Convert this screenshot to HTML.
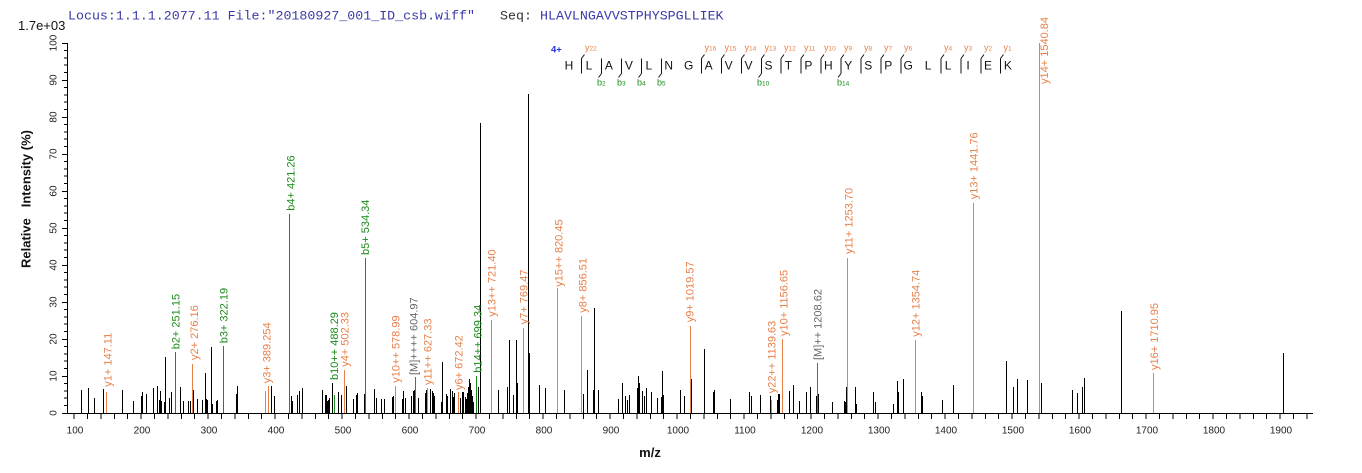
<!DOCTYPE html>
<html><head><meta charset="utf-8"><style>
html,body{margin:0;padding:0;background:#fff;}
svg{display:block;}
.pk{font-family:"Liberation Sans",Arial,sans-serif;font-size:11px;}
.ax{font-family:"Liberation Sans",Arial,sans-serif;font-size:10px;fill:#222;}
</style></head><body>
<svg width="1362" height="473" viewBox="0 0 1362 473" xmlns="http://www.w3.org/2000/svg">
<rect width="1362" height="473" fill="#fff"/>
<!-- header -->
<text x="68" y="19.5" font-family="Liberation Mono, monospace" font-size="13.3" fill="#3a3aa8">Locus:1.1.1.2077.11 File:"20180927_001_ID_csb.wiff"</text>
<text x="500" y="19.5" font-family="Liberation Mono, monospace" font-size="13.3" fill="#333">Seq:</text>
<text x="540" y="19.5" font-family="Liberation Mono, monospace" font-size="13.3" fill="#3a3aa8">HLAVLNGAVVSTPHYSPGLLIEK</text>
<text x="18" y="30" font-family="Liberation Sans, Arial, sans-serif" font-size="13" fill="#111">1.7e+03</text>

<!-- axes -->
<g stroke="#000" stroke-width="1" shape-rendering="crispEdges" fill="none">
<path d="M67.5 43V413.5 M62.5 413.5H1313"/>
<path d="M62 413.5H67 M62 376.5H67 M62 339.5H67 M62 302.5H67 M62 265.5H67 M62 228.5H67 M62 191.5H67 M62 154.5H67 M62 117.5H67 M62 80.5H67 M62 43.5H67"/>
<path d="M64 405.6H67 M64 398.2H67 M64 390.8H67 M64 383.4H67 M64 368.6H67 M64 361.2H67 M64 353.8H67 M64 346.4H67 M64 331.6H67 M64 324.2H67 M64 316.8H67 M64 309.4H67 M64 294.6H67 M64 287.2H67 M64 279.8H67 M64 272.4H67 M64 257.6H67 M64 250.2H67 M64 242.8H67 M64 235.4H67 M64 220.6H67 M64 213.2H67 M64 205.8H67 M64 198.4H67 M64 183.6H67 M64 176.2H67 M64 168.8H67 M64 161.4H67 M64 146.6H67 M64 139.2H67 M64 131.8H67 M64 124.4H67 M64 109.6H67 M64 102.2H67 M64 94.8H67 M64 87.4H67 M64 72.6H67 M64 65.2H67 M64 57.8H67 M64 50.4H67"/>
<path d="M74.1 413V419 M87.5 413V419 M100.9 413V419 M114.3 413V419 M127.7 413V419 M141.1 413V419 M154.5 413V419 M167.9 413V419 M181.3 413V419 M194.7 413V419 M208.1 413V419 M221.5 413V419 M234.9 413V419 M248.3 413V419 M261.7 413V419 M275.1 413V419 M288.5 413V419 M301.9 413V419 M315.3 413V419 M328.7 413V419 M342.1 413V419 M355.5 413V419 M368.9 413V419 M382.3 413V419 M395.7 413V419 M409.1 413V419 M422.5 413V419 M435.9 413V419 M449.3 413V419 M462.7 413V419 M476.1 413V419 M489.5 413V419 M502.9 413V419 M516.3 413V419 M529.7 413V419 M543.1 413V419 M556.5 413V419 M569.9 413V419 M583.3 413V419 M596.7 413V419 M610.1 413V419 M623.5 413V419 M636.9 413V419 M650.3 413V419 M663.7 413V419 M677.1 413V419 M690.5 413V419 M703.9 413V419 M717.3 413V419 M730.7 413V419 M744.1 413V419 M757.5 413V419 M770.9 413V419 M784.3 413V419 M797.7 413V419 M811.1 413V419 M824.5 413V419 M837.9 413V419 M851.3 413V419 M864.7 413V419 M878.1 413V419 M891.5 413V419 M904.9 413V419 M918.3 413V419 M931.7 413V419 M945.1 413V419 M958.5 413V419 M971.9 413V419 M985.3 413V419 M998.7 413V419 M1012.1 413V419 M1025.5 413V419 M1038.9 413V419 M1052.3 413V419 M1065.7 413V419 M1079.1 413V419 M1092.5 413V419 M1105.9 413V419 M1119.3 413V419 M1132.7 413V419 M1146.1 413V419 M1159.5 413V419 M1172.9 413V419 M1186.3 413V419 M1199.7 413V419 M1213.1 413V419 M1226.5 413V419 M1239.9 413V419 M1253.3 413V419 M1266.7 413V419 M1280.1 413V419 M1293.5 413V419 M1306.9 413V419"/>
</g>

<!-- y tick labels -->
<g class="ax" text-anchor="middle">
<text transform="translate(56.5,413) rotate(-90)">0</text>
<text transform="translate(56.5,376) rotate(-90)">10</text>
<text transform="translate(56.5,339) rotate(-90)">20</text>
<text transform="translate(56.5,302) rotate(-90)">30</text>
<text transform="translate(56.5,265) rotate(-90)">40</text>
<text transform="translate(56.5,228) rotate(-90)">50</text>
<text transform="translate(56.5,191) rotate(-90)">60</text>
<text transform="translate(56.5,154) rotate(-90)">70</text>
<text transform="translate(56.5,117) rotate(-90)">80</text>
<text transform="translate(56.5,80) rotate(-90)">90</text>
<text transform="translate(56.5,43) rotate(-90)">100</text>
</g>
<!-- x tick labels -->
<g class="ax" text-anchor="middle">
<text x="75" y="433.5">100</text>
<text x="142" y="433.5">200</text>
<text x="209" y="433.5">300</text>
<text x="276" y="433.5">400</text>
<text x="343" y="433.5">500</text>
<text x="410" y="433.5">600</text>
<text x="477" y="433.5">700</text>
<text x="544" y="433.5">800</text>
<text x="611" y="433.5">900</text>
<text x="678" y="433.5">1000</text>
<text x="745" y="433.5">1100</text>
<text x="812" y="433.5">1200</text>
<text x="879" y="433.5">1300</text>
<text x="946" y="433.5">1400</text>
<text x="1013" y="433.5">1500</text>
<text x="1080" y="433.5">1600</text>
<text x="1147" y="433.5">1700</text>
<text x="1214" y="433.5">1800</text>
<text x="1281" y="433.5">1900</text>
</g>

<!-- axis titles -->
<text x="650" y="457" text-anchor="middle" font-family="Liberation Sans, Arial, sans-serif" font-size="13" font-weight="bold" fill="#111">m/z</text>
<text transform="translate(30.5,199) rotate(-90)" text-anchor="middle" xml:space="preserve" font-family="Liberation Sans, Arial, sans-serif" font-size="13" font-weight="bold" fill="#111">Relative   Intensity (%)</text>

<!-- black peaks -->
<path stroke="#000" stroke-width="1" fill="none" shape-rendering="crispEdges" d="M81.5 413V390 M88.5 413V388 M94.5 413V398 M103.5 413V389 M122.5 413V390 M133.5 413V401 M141.5 413V396 M142.5 413V392 M146.5 413V394 M153.5 413V388 M157.5 413V386 M159.5 413V400 M160.5 413V391 M161.5 413V401 M164.5 413V402 M165.5 413V357 M169.5 413V398 M171.5 413V392 M180.5 413V387 M183.5 413V401 M188.5 413V401 M190.5 413V401 M193.5 413V390 M197.5 413V399 M202.5 413V400 M205.5 413V373 M206.5 413V399 M207.5 413V400 M211.5 413V347 M212.5 413V404 M216.5 413V401 M217.5 413V400 M236.5 413V394 M237.5 413V386 M271.5 413V386 M274.5 413V396 M291.5 413V396 M292.5 413V401 M297.5 413V395 M299.5 413V391 M302.5 413V388 M322.5 413V390 M325.5 413V395 M326.5 413V395 M327.5 413V401 M328.5 413V400 M329.5 413V398 M332.5 413V383 M338.5 413V392 M341.5 413V395 M346.5 413V386 M353.5 413V399 M356.5 413V395 M357.5 413V393 M364.5 413V394 M374.5 413V389 M376.5 413V398 M381.5 413V399 M384.5 413V399 M392.5 413V397 M393.5 413V396 M402.5 413V399 M403.5 413V391 M405.5 413V398 M411.5 413V396 M413.5 413V391 M414.5 413V390 M418.5 413V398 M425.5 413V393 M426.5 413V390 M430.5 413V389 M432.5 413V391 M433.5 413V393 M434.5 413V396 M441.5 413V402 M442.5 413V362 M446.5 413V394 M447.5 413V396 M450.5 413V389 M452.5 413V391 M453.5 413V397 M454.5 413V393 M460.5 413V398 M462.5 413V392 M463.5 413V392 M465.5 413V397 M466.5 413V399 M467.5 413V393 M468.5 413V387 M469.5 413V379 M470.5 413V383 M471.5 413V390 M472.5 413V396 M473.5 413V402 M478.5 413V387 M480.5 413V123 M498.5 413V390 M507.5 413V387 M509.5 413V340 M513.5 413V395 M516.5 413V340 M517.5 413V383 M528.5 413V94 M529.5 413V353 M539.5 413V385 M545.5 413V388 M564.5 413V390 M583.5 413V394 M587.5 413V370 M593.5 413V390 M594.5 413V308 M598.5 413V390 M618.5 413V399 M622.5 413V383 M625.5 413V396 M627.5 413V400 M629.5 413V395 M637.5 413V388 M638.5 413V376 M639.5 413V383 M642.5 413V391 M644.5 413V396 M646.5 413V388 M651.5 413V392 M657.5 413V398 M661.5 413V397 M662.5 413V371 M663.5 413V395 M680.5 413V390 M684.5 413V396 M691.5 413V379 M704.5 413V349 M713.5 413V392 M714.5 413V390 M730.5 413V399 M749.5 413V392 M751.5 413V396 M760.5 413V395 M770.5 413V396 M777.5 413V400 M778.5 413V394 M779.5 413V394 M789.5 413V391 M793.5 413V385 M799.5 413V401 M806.5 413V392 M810.5 413V387 M816.5 413V396 M818.5 413V394 M832.5 413V402 M844.5 413V401 M845.5 413V402 M846.5 413V387 M855.5 413V387 M856.5 413V404 M873.5 413V392 M875.5 413V402 M893.5 413V404 M897.5 413V381 M898.5 413V392 M903.5 413V379 M921.5 413V392 M922.5 413V396 M942.5 413V400 M953.5 413V385 M1006.5 413V361 M1013.5 413V387 M1017.5 413V379 M1027.5 413V380 M1041.5 413V383 M1072.5 413V390 M1077.5 413V393 M1082.5 413V387 M1084.5 413V378 M1121.5 413V311 M1283.5 413V353"/>

<!-- orange peaks -->
<path stroke="#E8804A" stroke-width="1" fill="none" shape-rendering="crispEdges" d="M106.5 413V392 M192.5 413V364 M265.5 413V391 M268.5 413V386 M344.5 413V370 M395.5 413V386 M427.5 413V388 M458.5 413V392 M491.5 413V320 M523.5 413V328 M557.5 413V288 M581.5 413V316 M690.5 413V326 M771.5 413V400 M782.5 413V339 M847.5 413V258 M915.5 413V340 M973.5 413V203 M1039.5 413V43 M1153.5 413V373"/>
<!-- green peaks -->
<path stroke="#1A8C1A" stroke-width="1" fill="none" shape-rendering="crispEdges" d="M175.5 413V352 M223.5 413V346 M289.5 413V214 M334.5 413V395 M365.5 413V258 M476.5 413V376"/>
<!-- gray peaks -->
<path stroke="#666" stroke-width="1" fill="none" shape-rendering="crispEdges" d="M415.5 413V377 M817.5 413V363"/>

<!-- peak labels -->
<g class="pk" fill="#E8804A">
<text transform="translate(111.3,386.7) rotate(-90)">y1+ 147.11</text>
<text transform="translate(198,360) rotate(-90)">y2+ 276.16</text>
<text transform="translate(270.3,383.3) rotate(-90)">y3+ 389.254</text>
<text transform="translate(348.7,366.7) rotate(-90)">y4+ 502.33</text>
<text transform="translate(399.7,382.7) rotate(-90)">y10++ 578.99</text>
<text transform="translate(431.3,385) rotate(-90)">y11++ 627.33</text>
<text transform="translate(462.3,390) rotate(-90)">y6+ 672.42</text>
<text transform="translate(495.7,316.7) rotate(-90)">y13++ 721.40</text>
<text transform="translate(527.3,324.3) rotate(-90)">y7+ 769.47</text>
<text transform="translate(562.3,286.7) rotate(-90)">y15++ 820.45</text>
<text transform="translate(586.3,312.7) rotate(-90)">y8+ 856.51</text>
<text transform="translate(693.7,322.3) rotate(-90)">y9+ 1019.57</text>
<text transform="translate(775.3,393.3) rotate(-90)">y22++ 1139.63</text>
<text transform="translate(787.3,336) rotate(-90)">y10+ 1156.65</text>
<text transform="translate(852.3,254) rotate(-90)">y11+ 1253.70</text>
<text transform="translate(919.7,336.7) rotate(-90)">y12+ 1354.74</text>
<text transform="translate(977.3,199.3) rotate(-90)">y13+ 1441.76</text>
<text transform="translate(1048,84) rotate(-90)">y14+ 1540.84</text>
<text transform="translate(1158,370) rotate(-90)">y16+ 1710.95</text>
</g>
<g class="pk" fill="#1A8C1A">
<text transform="translate(179.7,349.3) rotate(-90)">b2+ 251.15</text>
<text transform="translate(227.3,343.3) rotate(-90)">b3+ 322.19</text>
<text transform="translate(294.7,210.7) rotate(-90)">b4+ 421.26</text>
<text transform="translate(338,380) rotate(-90)">b10++ 488.29</text>
<text transform="translate(369,255) rotate(-90)">b5+ 534.34</text>
<text transform="translate(481.3,372.7) rotate(-90)">b14++ 699.34</text>
</g>
<g class="pk" fill="#666">
<text transform="translate(417.3,375) rotate(-90)">[M]++++ 604.97</text>
<text transform="translate(821.3,360) rotate(-90)">[M]++ 1208.62</text>
</g>

<!-- sequence annotation -->
<text x="551" y="52.5" font-family="Liberation Sans, Arial, sans-serif" font-size="9.5" font-weight="bold" fill="#2233dd">4+</text>
<g font-family="Liberation Sans, Arial, sans-serif" font-size="12" fill="#111" text-anchor="middle">
<text x="569" y="69.5">H</text>
<text x="588.95" y="69.5">L</text>
<text x="608.9" y="69.5">A</text>
<text x="628.85" y="69.5">V</text>
<text x="648.8" y="69.5">L</text>
<text x="668.75" y="69.5">N</text>
<text x="688.7" y="69.5">G</text>
<text x="708.65" y="69.5">A</text>
<text x="728.6" y="69.5">V</text>
<text x="748.55" y="69.5">V</text>
<text x="768.5" y="69.5">S</text>
<text x="788.45" y="69.5">T</text>
<text x="808.4" y="69.5">P</text>
<text x="828.35" y="69.5">H</text>
<text x="848.3" y="69.5">Y</text>
<text x="868.25" y="69.5">S</text>
<text x="888.2" y="69.5">P</text>
<text x="908.15" y="69.5">G</text>
<text x="928.1" y="69.5">L</text>
<text x="948.05" y="69.5">L</text>
<text x="968" y="69.5">I</text>
<text x="987.95" y="69.5">E</text>
<text x="1007.9" y="69.5">K</text>
</g>
<!-- separators: vertical bars -->
<path stroke="#111" stroke-width="1" fill="none" d="M581.5 58.5V73.5 M601.5 58.5V73.5 M621.5 58.5V73.5 M641.5 58.5V73.5 M661.5 58.5V73.5 M701.5 58.5V73.5 M721.5 58.5V73.5 M741.5 58.5V73.5 M761.5 58.5V73.5 M781 58.5V73.5 M801 58.5V73.5 M821 58.5V73.5 M841 58.5V73.5 M861 58.5V73.5 M881 58.5V73.5 M901 58.5V73.5 M941 58.5V73.5 M961 58.5V73.5 M981 58.5V73.5 M1000.5 58.5V73.5"/>
<!-- y hooks (top) -->
<path stroke="#111" stroke-width="1" fill="none" d="M581.5 58.5l3 -4 M701.5 58.5l3 -4 M721.5 58.5l3 -4 M741.5 58.5l3 -4 M761.5 58.5l3 -4 M781 58.5l3 -4 M801 58.5l3 -4 M821 58.5l3 -4 M841 58.5l3 -4 M861 58.5l3 -4 M881 58.5l3 -4 M901 58.5l3 -4 M941 58.5l3 -4 M961 58.5l3 -4 M981 58.5l3 -4 M1000.5 58.5l3 -4"/>
<!-- b hooks (bottom) -->
<path stroke="#111" stroke-width="1" fill="none" d="M601.5 73.5l-3 4 M621.5 73.5l-3 4 M641.5 73.5l-3 4 M661.5 73.5l-3 4 M761.5 73.5l-3 4 M841 73.5l-3 4"/>
<!-- y labels -->
<g font-family="Liberation Sans, Arial, sans-serif" font-size="9" fill="#E8804A">
<text x="585" y="50.5">y<tspan font-size="6.5">22</tspan></text>
<text x="704.5" y="50.5">y<tspan font-size="6.5">16</tspan></text>
<text x="724.5" y="50.5">y<tspan font-size="6.5">15</tspan></text>
<text x="744.5" y="50.5">y<tspan font-size="6.5">14</tspan></text>
<text x="764.5" y="50.5">y<tspan font-size="6.5">13</tspan></text>
<text x="784" y="50.5">y<tspan font-size="6.5">12</tspan></text>
<text x="804" y="50.5">y<tspan font-size="6.5">11</tspan></text>
<text x="824" y="50.5">y<tspan font-size="6.5">10</tspan></text>
<text x="844" y="50.5">y<tspan font-size="6.5">9</tspan></text>
<text x="864" y="50.5">y<tspan font-size="6.5">8</tspan></text>
<text x="884" y="50.5">y<tspan font-size="6.5">7</tspan></text>
<text x="904" y="50.5">y<tspan font-size="6.5">6</tspan></text>
<text x="944" y="50.5">y<tspan font-size="6.5">4</tspan></text>
<text x="964" y="50.5">y<tspan font-size="6.5">3</tspan></text>
<text x="984" y="50.5">y<tspan font-size="6.5">2</tspan></text>
<text x="1003.5" y="50.5">y<tspan font-size="6.5">1</tspan></text>
</g>
<!-- b labels -->
<g font-family="Liberation Sans, Arial, sans-serif" font-size="9" fill="#1A8C1A">
<text x="597" y="85.5">b<tspan font-size="6.5">2</tspan></text>
<text x="617" y="85.5">b<tspan font-size="6.5">3</tspan></text>
<text x="637" y="85.5">b<tspan font-size="6.5">4</tspan></text>
<text x="657" y="85.5">b<tspan font-size="6.5">5</tspan></text>
<text x="757" y="85.5">b<tspan font-size="6.5">10</tspan></text>
<text x="837" y="85.5">b<tspan font-size="6.5">14</tspan></text>
</g>
</svg>
</body></html>
